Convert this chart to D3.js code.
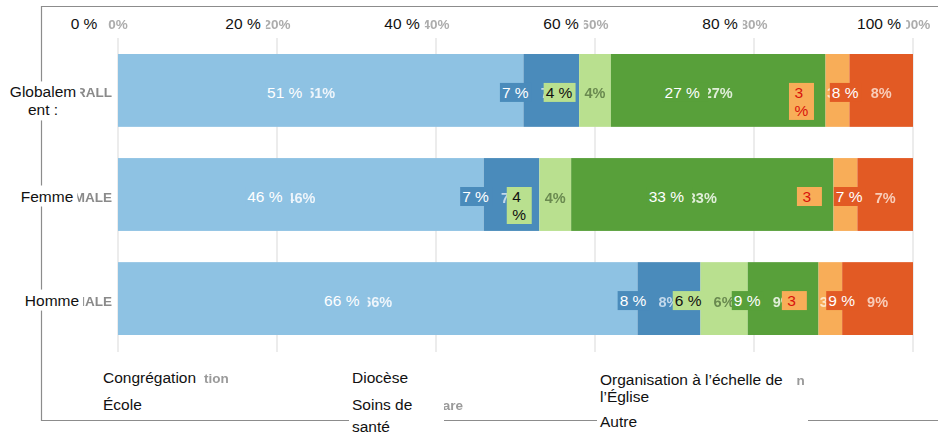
<!DOCTYPE html>
<html>
<head>
<meta charset="utf-8">
<script src="https://cdn.jsdelivr.net/npm/d3@7"></script>
<style>
	body { margin: 0; background: #fff; }
	svg { display: block; font-family: "Liberation Sans", Arial, sans-serif; }
</style>
</head>
<body>
<svg id="chart" width="938" height="434"></svg>
<script>
// rows and categories, original (under) and translated (over)
const rowsEn = ['OVERALL', 'FEMALE', 'MALE'];
const rowsFr = [['Globalem', 'ent :'], ['Femme'], ['Homme']];
const categoriesEn = ['Congregation', 'School', 'Diocese', 'Healthcare', 'Church-wide organization', 'Other'];
const categoriesFr = ['Congrégation', 'École', 'Diocèse', 'Soins de santé', 'Organisation à l’échelle de l’Église', 'Autre'];

// share of answers, in %
const overallValues = [51, 7, 4, 27, 3, 8];
const femaleValues = [46, 7, 4, 33, 3, 7];
const maleValues = [66, 8, 6, 9, 3, 9];

// translated value labels as they show up on the bars
const overallLabelsFr = [['51 %'], ['7 %'], ['4 %'], ['27 %'], ['3', '%'], ['8 %']];
const femaleLabelsFr = [['46 %'], ['7 %'], ['4', '%'], ['33 %'], ['3'], ['7 %']];
const maleLabelsFr = [['66 %'], ['8 %'], ['6 %'], ['9 %'], ['3'], ['9 %']];

const tickValues = [0, 0.2, 0.4, 0.6, 0.8, 1];
const tickLabelsEn = ['0%', '20%', '40%', '60%', '80%', '100%'];
const tickLabelsFr = ['0 %', '20 %', '40 %', '60 %', '80 %', '100 %'];

const valuesByRow = [overallValues, femaleValues, maleValues];
const labelsFrByRow = [overallLabelsFr, femaleLabelsFr, maleLabelsFr];

// table for d3.stack
const table = rowsEn.map((row, i) => {
	const obj = { row: row };
	categoriesEn.forEach((c, j) => { obj[c] = valuesByRow[i][j]; });
	return obj;
});

const colors = d3.scaleOrdinal()
	.domain(categoriesEn)
	.range(['#8ec2e3', '#4a8bbb', '#b9e08f', '#58a03a', '#f8ad58', '#e25a24']);
// faded colour of the original labels, per category
const ghostColors = ['#eef5fb', '#c3d9ec', '#6a8a50', '#e0eed8', '#fde6c8', '#f8cdb9'];
// colour of translated labels, per category
const frColors = ['#ffffff', '#ffffff', '#111111', '#ffffff', '#d8140c', '#ffffff'];

const svg = d3.select('#chart');

const x = d3.scaleLinear().domain([0, 1]).range([118, 913]);
const y = d3.scaleBand().domain(rowsEn).range([54, 335]).paddingInner(0.3).paddingOuter(0);
const mid = r => y(r) + y.bandwidth() / 2;

svg.append('rect').attr('width', 938).attr('height', 434).attr('fill', '#fff');

const defs = svg.append('defs');
defs.append('filter').attr('id', 'soft')
	.append('feGaussianBlur').attr('stdDeviation', 0.6);

// frame of the pasted picture
svg.append('path')
	.attr('d', 'M938,6.5H41.5V420.5H938')
	.attr('fill', 'none')
	.attr('stroke', '#8c8c8c')
	.attr('stroke-width', 1.2);

// grid
svg.append('g')
	.selectAll('line')
	.data(tickValues)
	.join('line')
	.attr('x1', d => x(d)).attr('x2', d => x(d))
	.attr('y1', 38).attr('y2', 352)
	.attr('stroke', '#e6e6e6')
	.attr('stroke-width', 1.5);

// stacked bars
const series = d3.stack().keys(categoriesEn).offset(d3.stackOffsetExpand)(table);

svg.append('g')
	.selectAll('g')
	.data(series)
	.join('g')
	.attr('fill', d => colors(d.key))
	.selectAll('rect')
	.data(d => d)
	.join('rect')
	.attr('x', d => x(d[0]))
	.attr('width', d => x(d[1]) - x(d[0]))
	.attr('y', d => y(d.data.row))
	.attr('height', y.bandwidth());

// ---- original labels, left over under the translation ----
const ghost = svg.append('g')
	.attr('filter', 'url(#soft)')
	.attr('font-weight', 'bold')
	.attr('font-size', 13.5);

ghost.selectAll('.gtick')
	.data(tickValues)
	.join('text')
	.attr('class', 'gtick')
	.attr('x', d => x(d))
	.attr('y', 29)
	.attr('text-anchor', 'middle')
	.attr('fill', '#acacac')
	.text((d, i) => tickLabelsEn[i]);

ghost.selectAll('.grow')
	.data(rowsEn)
	.join('text')
	.attr('class', 'grow')
	.attr('x', 112)
	.attr('y', d => mid(d) + 7)
	.attr('text-anchor', 'end')
	.attr('fill', '#8a8a8a')
	.text(d => d);

series.forEach((s, j) => {
	ghost.append('g')
		.attr('font-size', 14.5)
		.selectAll('text')
		.data(s)
		.join('text')
		.attr('x', d => (x(d[0]) + x(d[1])) / 2)
		.attr('y', d => mid(d.data.row) + 8)
		.attr('text-anchor', 'middle')
		.attr('fill', ghostColors[j])
		.text(d => d.data[s.key] + '%');
});

const legendCols = [
	{ x: 103, ghostX: 141, ys: [378, 405], lineH: 17, wrapW: 160, boxW: [104, 104] },
	{ x: 352, ghostX: 394, ys: [378, 405], lineH: 22, wrapW: 80, boxW: [98, 95] },
	{ x: 600, ghostX: 639, ys: [380, 422], lineH: 17, wrapW: 200, boxW: [199, 211] }
];

categoriesEn.forEach((c, i) => {
	const col = legendCols[Math.floor(i / 2)];
	ghost.append('text')
		.attr('x', col.ghostX)
		.attr('y', col.ys[i % 2] + 5)
		.attr('fill', '#9a9a9a')
		.text(c);
});

// ---- translated overlay ----
const over = svg.append('g')
	.attr('font-size', 15.5)
	.attr('fill', '#111');

// puts a box behind a text group, sized on the text
function boxIt(g, fill, padL, padR, padY, minRight) {
	const bb = g.node().getBBox();
	let right = bb.x + bb.width + padR;
	if (minRight != null) right = Math.max(right, minRight);
	g.insert('rect', ':first-child')
		.attr('x', bb.x - padL)
		.attr('y', bb.y - padY)
		.attr('width', right - bb.x + padL)
		.attr('height', bb.height + padY * 2)
		.attr('fill', fill);
}

tickValues.forEach((t, i) => {
	const g = over.append('g');
	g.append('text')
		.attr('x', x(t) - 34)
		.attr('y', 29)
		.attr('text-anchor', 'middle')
		.text(tickLabelsFr[i]);
	boxIt(g, '#fff', 3, 5, 1);
});

const rowLabelX = [43, 47, 52];
rowsFr.forEach((lines, i) => {
	const g = over.append('g');
	const c = mid(rowsEn[i]);
	lines.forEach((l, k) => {
		g.append('text')
			.attr('x', rowLabelX[i])
			.attr('y', c + 7 + k * 18)
			.attr('text-anchor', 'middle')
			.text(l);
	});
	boxIt(g, '#fff', 4, 4, 2);
});

series.forEach((s, j) => {
	s.forEach((d, i) => {
		const lines = labelsFrByRow[i][j];
		const cx = (x(d[0]) + x(d[1])) / 2 - 36;
		const c = mid(d.data.row);
		const g = over.append('g');
		lines.forEach((l, k) => {
			g.append('text')
				.attr('x', cx)
				.attr('y', c + 7.5 + k * 18)
				.attr('text-anchor', 'middle')
				.attr('fill', frColors[j])
				.text(l);
		});
		const bb0 = g.node().getBBox();
		if (bb0.width < 22) {
			// narrow box: text sits at its left, box keeps a fixed width
			g.selectAll('text').attr('text-anchor', 'start').attr('x', cx - 7);
			const bb = g.node().getBBox();
			g.insert('rect', ':first-child')
				.attr('x', cx - 12.5).attr('y', bb.y - 1)
				.attr('width', 25).attr('height', bb.height + 2)
				.attr('fill', colors(s.key));
		} else {
			// a box hidden inside its own segment is a bit wider on the right
			const inside = bb0.x - 2 >= x(d[0]);
			boxIt(g, colors(s.key), 2, inside ? 8 : 3, 1);
		}
	});
});

// legend, with word wrap
categoriesFr.forEach((name, i) => {
	const col = legendCols[Math.floor(i / 2)];
	const g = over.append('g');
	const words = name.split(' ');
	let line = [];
	let k = 0;
	let t = g.append('text').attr('x', col.x).attr('y', col.ys[i % 2] + 5);
	words.forEach(w => {
		line.push(w);
		t.text(line.join(' '));
		if (t.node().getComputedTextLength() > col.wrapW && line.length > 1) {
			line.pop();
			t.text(line.join(' '));
			line = [w];
			k++;
			t = g.append('text').attr('x', col.x).attr('y', col.ys[i % 2] + 5 + k * col.lineH).text(w);
		}
	});
	boxIt(g, '#fff', 3, 3, 2, col.x - 3 + col.boxW[i % 2]);
});
</script>
</body>
</html>
